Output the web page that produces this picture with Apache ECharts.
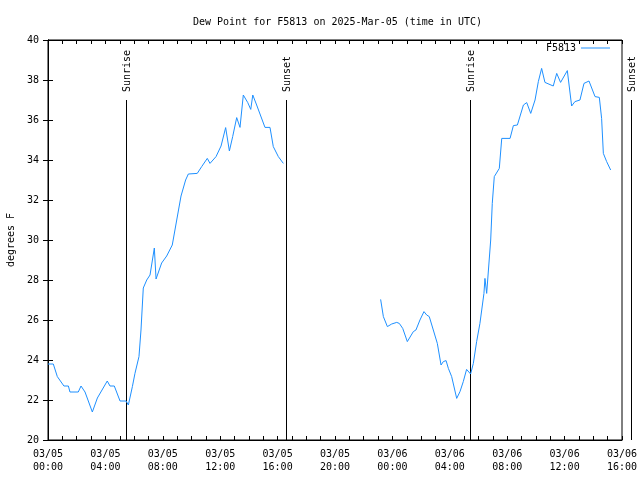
<!DOCTYPE html>
<html>
<head>
<meta charset="utf-8">
<script src="https://cdn.jsdelivr.net/npm/echarts@6/dist/echarts.min.js"></script>
<style>html,body{margin:0;padding:0;background:#fff;}#c{width:640px;height:480px;}</style>
</head>
<body>
<div id="c"></div>
<script>
// Hours since 2025-03-05 00:00 UTC
const seg1Hours = [0, 0.37, 0.65, 1.11, 1.42, 1.53, 2.11, 2.30, 2.58, 3.09, 3.44, 4.13, 4.32, 4.62, 5.02, 5.44, 5.6, 5.88, 6.06, 6.34, 6.48, 6.64, 6.88, 7.11, 7.41, 7.53, 7.92, 8.27, 8.66, 8.97, 9.27, 9.59, 9.78, 10.4, 10.71, 11.1, 11.29, 11.71, 12.06, 12.38, 12.64, 12.87, 13.15, 13.38, 13.61, 13.92, 14.13, 14.27, 14.54, 15.12, 15.47, 15.7, 16.05, 16.4];
const seg1Values = [23.8, 23.8, 23.17, 22.7, 22.7, 22.4, 22.4, 22.7, 22.4, 21.4, 22.1, 22.95, 22.7, 22.7, 21.95, 21.95, 21.75, 22.67, 23.33, 24.17, 25.5, 27.6, 28.0, 28.25, 29.6, 28.05, 28.85, 29.2, 29.75, 31.0, 32.2, 33.0, 33.3, 33.33, 33.67, 34.08, 33.83, 34.17, 34.7, 35.62, 34.45, 35.17, 36.12, 35.63, 37.25, 36.87, 36.53, 37.25, 36.75, 35.63, 35.63, 34.67, 34.17, 33.83];
const seg2Hours = [23.18, 23.37, 23.65, 23.95, 24.3, 24.48, 24.72, 25.04, 25.46, 25.64, 25.92, 26.2, 26.39, 26.57, 26.85, 27.13, 27.39, 27.55, 27.74, 27.9, 28.13, 28.48, 28.71, 28.94, 29.17, 29.45, 29.64, 29.87, 30.1, 30.38, 30.45, 30.57, 30.85, 30.96, 31.1, 31.45, 31.62, 32.2, 32.43, 32.71, 33.13, 33.36, 33.47, 33.64, 33.94, 34.17, 34.4, 34.63, 35.21, 35.45, 35.72, 36.19, 36.49, 36.72, 37.07, 37.35, 37.7, 38.12, 38.42, 38.58, 38.7, 38.93, 39.21];
const seg2Values = [27.03, 26.17, 25.67, 25.8, 25.88, 25.83, 25.58, 24.92, 25.42, 25.5, 26.0, 26.42, 26.25, 26.17, 25.5, 24.83, 23.75, 23.92, 23.97, 23.58, 23.17, 22.08, 22.42, 22.92, 23.53, 23.3, 23.83, 24.92, 25.83, 27.33, 28.08, 27.33, 30.0, 31.83, 33.17, 33.58, 35.08, 35.08, 35.72, 35.75, 36.75, 36.87, 36.8, 36.33, 37.0, 37.92, 38.58, 37.88, 37.7, 38.33, 37.88, 38.47, 36.7, 36.92, 37.0, 37.83, 37.95, 37.17, 37.13, 36.08, 34.33, 33.92, 33.5];
const sunNames = ['Sunrise', 'Sunset', 'Sunrise', 'Sunset'];
const sunHours = [5.43, 16.6, 29.43, 40.65];
const sunLineTop = 37;
const seriesName = 'F5813';
const titleText = 'Dew Point for F5813 on 2025-Mar-05 (time in UTC)';
const yAxisName = 'degrees F';

const FONT = 'DejaVu Sans Mono';
const lineData = [];
seg1Hours.forEach((h, i) => lineData.push([h, seg1Values[i]]));
lineData.push([20, null]);
seg2Hours.forEach((h, i) => lineData.push([h, seg2Values[i]]));

function fmtX(v) {
  if (v % 4 !== 0) return '';
  const day = 5 + Math.floor(v / 24);
  const hr = v % 24;
  return '03/' + String(day).padStart(2, '0') + '\n' + String(hr).padStart(2, '0') + ':00';
}

const tickCommon = { inside: true, length: 4, lineStyle: { color: '#000' } };
const chart = echarts.init(document.getElementById('c'), null, { renderer: 'canvas' });
chart.setOption({
  animation: false,
  backgroundColor: '#fff',
  title: {
    text: titleText, left: 188, top: 12,
    textStyle: { fontFamily: FONT, fontSize: 10, fontWeight: 'normal', color: '#000' }
  },
  legend: {
    data: [{ name: seriesName, icon: 'rect' }],
    right: 25, top: 38, align: 'right', itemWidth: 29, itemHeight: 1,
    textStyle: { fontFamily: FONT, fontSize: 10, color: '#000' }
  },
  grid: { left: 48, right: 18, top: 40, bottom: 40, show: true, borderColor: '#000', borderWidth: 1, outerBoundsMode: 'none', containLabel: false },
  xAxis: [{
    type: 'value', min: 0, max: 40, interval: 4,
    axisLine: { lineStyle: { color: '#000' } },
    axisTick: tickCommon,
    minorTick: { show: true, splitNumber: 4, length: 4, lineStyle: { color: '#000' } },
    splitLine: { show: false },
    axisLabel: { formatter: fmtX, fontFamily: FONT, fontSize: 10, color: '#000', lineHeight: 13, margin: 8 }
  }, {
    type: 'value', min: 0, max: 40, interval: 4, position: 'top',
    axisLine: { lineStyle: { color: '#000' } },
    axisTick: tickCommon,
    minorTick: { show: true, splitNumber: 4, length: 4, lineStyle: { color: '#000' } },
    splitLine: { show: false }, axisLabel: { show: false }
  }],
  yAxis: [{
    type: 'value', min: 20, max: 40, interval: 2,
    name: yAxisName, nameLocation: 'middle', nameGap: 32,
    nameTextStyle: { fontFamily: FONT, fontSize: 10, color: '#000' },
    axisLine: { show: true, lineStyle: { color: '#000' } },
    axisTick: { inside: true, length: 5, lineStyle: { color: '#000' } },
    splitLine: { show: false },
    axisLabel: { fontFamily: FONT, fontSize: 10, color: '#000', margin: 9 }
  }, {
    type: 'value', min: 20, max: 40, interval: 2, position: 'right',
    axisLine: { show: true, lineStyle: { color: '#000' } },
    axisTick: { inside: true, length: 5, lineStyle: { color: '#000' } },
    splitLine: { show: false }, axisLabel: { show: false }
  }],
  series: [{
    name: seriesName, type: 'line', data: lineData, showSymbol: false, symbol: 'none',
    connectNulls: false, lineStyle: { color: '#1E90FF', width: 1 }, itemStyle: { color: '#1E90FF' }
  }, {
    name: 'sun', type: 'custom', clip: false, silent: true,
    data: sunHours.map(h => [h, sunLineTop]),
    renderItem: function (params, api) {
      const h = api.value(0);
      const p0 = api.coord([h, 20]);
      const p1 = api.coord([h, api.value(1)]);
      const x = Math.round(p0[0]) + 0.5;
      return {
        type: 'group', children: [
          { type: 'line', shape: { x1: x, y1: p0[1], x2: x, y2: p1[1] }, style: { stroke: '#000', lineWidth: 1 } },
          { type: 'text', x: x + 1, y: p1[1] - 8, rotation: Math.PI / 2,
            style: { text: sunNames[params.dataIndex], align: 'left', verticalAlign: 'middle', font: '10px ' + FONT, fill: '#000' } }
        ]
      };
    }
  }]
});
</script>
</body>
</html>
